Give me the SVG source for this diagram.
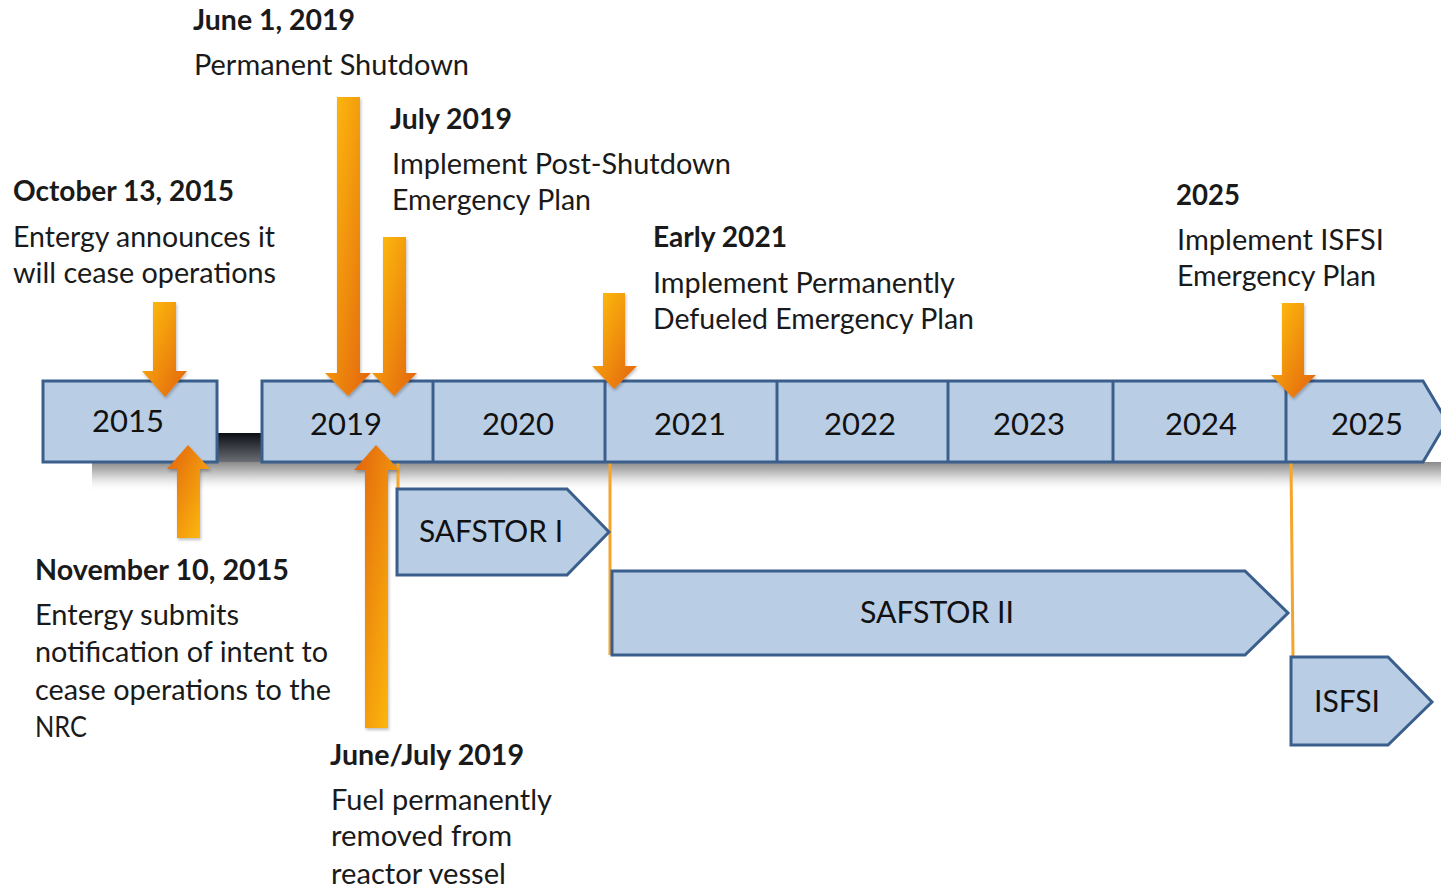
<svg xmlns="http://www.w3.org/2000/svg" width="1441" height="889" viewBox="0 0 1441 889">
<style>
.bar{fill:#b9cde5;stroke:#3b5f8c;stroke-width:3;stroke-linejoin:miter}
.div{stroke:#3b5f8c;stroke-width:3}
.yr{font-family:Lato,"Open Sans","Liberation Sans",sans-serif;font-size:31px;fill:#111;text-anchor:middle}
.ph{font-family:Lato,"Open Sans","Liberation Sans",sans-serif;font-size:30px;fill:#111;text-anchor:middle}
.t{font-family:Lato,"Open Sans","Liberation Sans",sans-serif;font-size:28px;fill:#1a1a1a}
.b{font-weight:bold}
.ol{stroke:#f6a52a;stroke-width:3;fill:none}
.dn{fill:url(#gDown);filter:url(#sh)}
.up{fill:url(#gUp);filter:url(#sh)}
</style>
<defs>
<linearGradient id="gDown" x1="0" y1="0" x2="1" y2="1">
<stop offset="0" stop-color="#ffc20e"/>
<stop offset="1" stop-color="#e2620d"/>
</linearGradient>
<linearGradient id="gUp" x1="1" y1="1" x2="0" y2="0">
<stop offset="0" stop-color="#ffc20e"/>
<stop offset="1" stop-color="#e2620d"/>
</linearGradient>
<linearGradient id="gShadow" x1="0" y1="0" x2="0" y2="1">
<stop offset="0" stop-color="#8a8a8a"/>
<stop offset="0.5" stop-color="#d6d6d6"/>
<stop offset="1" stop-color="#ffffff" stop-opacity="0"/>
</linearGradient>
<linearGradient id="gConn" x1="0" y1="0" x2="0" y2="1">
<stop offset="0" stop-color="#0b0e14"/>
<stop offset="1" stop-color="#6a6e74"/>
</linearGradient>
<filter id="sh" x="-50%" y="-10%" width="200%" height="120%">
<feDropShadow dx="1" dy="2" stdDeviation="1.5" flood-color="#000" flood-opacity="0.25"/>
</filter>
</defs>
<rect width="1441" height="889" fill="#ffffff"/>

<g id="shadow">
<rect x="92" y="462" width="1349" height="30" fill="url(#gShadow)"/>
<rect x="217" y="433" width="45" height="29" fill="url(#gConn)"/>
</g>

<g id="connectors">
<line class="ol" x1="398" y1="462" x2="398" y2="489"/>
<line class="ol" x1="610" y1="462" x2="610" y2="655"/>
<line class="ol" x1="1291" y1="462" x2="1293" y2="657"/>
</g>

<g id="bar2015">
<rect class="bar" x="43" y="381" width="174" height="81"/>
<text class="yr" x="128" y="432">2015</text>
</g>

<g id="timeline">
<path class="bar" d="M262,381 H1423 L1447,421.5 L1423,462 H262 Z"/>
<line class="div" x1="433" y1="381" x2="433" y2="462"/>
<line class="div" x1="605" y1="381" x2="605" y2="462"/>
<line class="div" x1="777" y1="381" x2="777" y2="462"/>
<line class="div" x1="948" y1="381" x2="948" y2="462"/>
<line class="div" x1="1113" y1="381" x2="1113" y2="462"/>
<line class="div" x1="1286" y1="381" x2="1286" y2="462"/>
<text class="yr" x="346" y="435">2019</text>
<text class="yr" x="518" y="435">2020</text>
<text class="yr" x="690" y="435">2021</text>
<text class="yr" x="860" y="435">2022</text>
<text class="yr" x="1029" y="435">2023</text>
<text class="yr" x="1201" y="435">2024</text>
<text class="yr" x="1367" y="435">2025</text>
</g>

<g id="safstor1">
<path class="bar" d="M397,489 H567 L609,532 L567,575 H397 Z"/>
<text class="ph" x="491" y="542" textLength="144" lengthAdjust="spacingAndGlyphs">SAFSTOR I</text>
</g>
<g id="safstor2">
<path class="bar" d="M612,571 H1245 L1288,613 L1245,655 H612 Z"/>
<text class="ph" x="937" y="623" textLength="154" lengthAdjust="spacingAndGlyphs">SAFSTOR II</text>
</g>
<g id="isfsi">
<path class="bar" d="M1291,657 H1388 L1432,702 L1388,745 H1291 Z"/>
<text class="ph" x="1347" y="712" textLength="66" lengthAdjust="spacingAndGlyphs">ISFSI</text>
</g>

<g id="arrows">
<polygon class="dn" points="153,302 176,302 176,371 187,371 165,397 142,371 153,371"/>
<polygon class="up" points="177,538 200,538 200,469 210,469 188,445 167,469 177,469"/>
<polygon class="dn" points="337,97 360,97 360,373 371,373 348,396 325,373 337,373"/>
<polygon class="dn" points="383,237 406,237 406,373 417,373 394,396 372,373 383,373"/>
<polygon class="up" points="365,728 388,728 388,470 399,470 376,445 354,470 365,470"/>
<polygon class="dn" points="603,293 625,293 625,366 637,366 614,389 592,366 603,366"/>
<polygon class="dn" points="1282,303 1304,303 1304,375 1316,375 1293,398 1271,375 1282,375"/>
</g>

<g id="label-june1">
<text class="t b" x="193" y="30" textLength="162" lengthAdjust="spacingAndGlyphs">June 1, 2019</text>
<text class="t" x="194" y="75" textLength="275" lengthAdjust="spacingAndGlyphs">Permanent Shutdown</text>
</g>
<g id="label-july">
<text class="t b" x="390" y="129" textLength="122" lengthAdjust="spacingAndGlyphs">July 2019</text>
<text class="t" x="392" y="174" textLength="339" lengthAdjust="spacingAndGlyphs">Implement Post-Shutdown</text>
<text class="t" x="392" y="210" textLength="199" lengthAdjust="spacingAndGlyphs">Emergency Plan</text>
</g>
<g id="label-oct">
<text class="t b" x="13" y="201" textLength="221" lengthAdjust="spacingAndGlyphs">October 13, 2015</text>
<text class="t" x="13" y="247" textLength="262" lengthAdjust="spacingAndGlyphs">Entergy announces it</text>
<text class="t" x="13" y="283" textLength="263" lengthAdjust="spacingAndGlyphs">will cease operations</text>
</g>
<g id="label-early2021">
<text class="t b" x="653" y="247" textLength="134" lengthAdjust="spacingAndGlyphs">Early 2021</text>
<text class="t" x="653" y="293" textLength="302" lengthAdjust="spacingAndGlyphs">Implement Permanently</text>
<text class="t" x="653" y="329" textLength="321" lengthAdjust="spacingAndGlyphs">Defueled Emergency Plan</text>
</g>
<g id="label-2025">
<text class="t b" x="1176" y="205" textLength="64" lengthAdjust="spacingAndGlyphs">2025</text>
<text class="t" x="1177" y="250" textLength="207" lengthAdjust="spacingAndGlyphs">Implement ISFSI</text>
<text class="t" x="1177" y="286" textLength="199" lengthAdjust="spacingAndGlyphs">Emergency Plan</text>
</g>
<g id="label-nov">
<text class="t b" x="35" y="580" textLength="254" lengthAdjust="spacingAndGlyphs">November 10, 2015</text>
<text class="t" x="35" y="625" textLength="204" lengthAdjust="spacingAndGlyphs">Entergy submits</text>
<text class="t" x="35" y="662" textLength="293" lengthAdjust="spacingAndGlyphs">notification of intent to</text>
<text class="t" x="35" y="700" textLength="296" lengthAdjust="spacingAndGlyphs">cease operations to the</text>
<text class="t" x="35" y="737" textLength="52" lengthAdjust="spacingAndGlyphs">NRC</text>
</g>
<g id="label-junejuly">
<text class="t b" x="330" y="765" textLength="194" lengthAdjust="spacingAndGlyphs">June/July 2019</text>
<text class="t" x="331" y="810" textLength="221" lengthAdjust="spacingAndGlyphs">Fuel permanently</text>
<text class="t" x="331" y="846" textLength="181" lengthAdjust="spacingAndGlyphs">removed from</text>
<text class="t" x="331" y="884" textLength="175" lengthAdjust="spacingAndGlyphs">reactor vessel</text>
</g>
</svg>
